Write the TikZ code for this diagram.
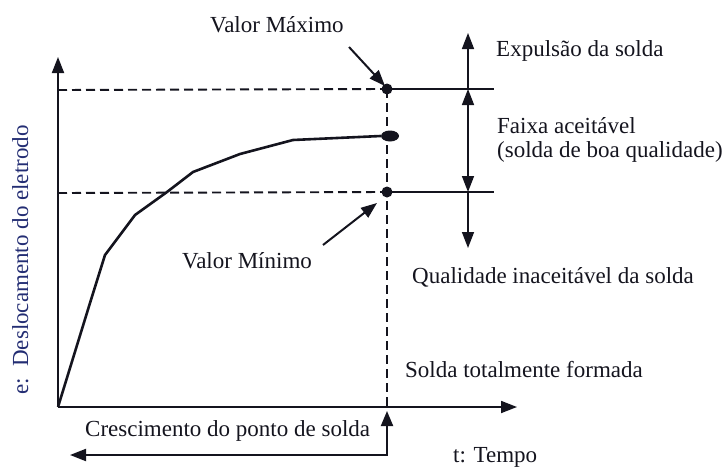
\documentclass[tikz,border=0pt]{standalone}
\usepackage{fontspec}
\setmainfont{Liberation Serif}
\usetikzlibrary{arrows.meta,shapes.geometric}
\definecolor{ink}{RGB}{20,20,30}
\definecolor{navy}{RGB}{35,45,115}
\begin{document}
\begin{tikzpicture}[x=1pt,y=-1pt,
  lbl/.style={anchor=base west,inner sep=0pt,text=ink,font=\fontsize{23}{27}\selectfont},
  ax/.style={line width=1.8pt,draw=ink},
  dsh/.style={line width=1.9pt,draw=ink,dash pattern=on 9pt off 5pt},
  thin/.style={line width=1.5pt,draw=ink},
  tip/.style={-{Triangle[length=16pt,width=12pt]}},
  dot/.style={circle,fill=ink,inner sep=0pt,minimum size=11pt}]
\useasboundingbox (0,0) rectangle (723,466);
% key points
\coordinate (O) at (58,407);
\coordinate (ytop) at (58,57);
\coordinate (xend) at (517,407);
\coordinate (yMx) at (58,90);
\coordinate (yMn) at (58,193);
\coordinate (rMx) at (494,89);
\coordinate (rMn) at (494,192);
\coordinate (vtop) at (468,33);
\coordinate (vMx) at (468,89);
\coordinate (vMn) at (468,192);
\coordinate (vbot) at (468,248);
\coordinate (dbot) at (387,407);
\coordinate (upTail) at (387,455);
\coordinate (upTip) at (387,411);
\coordinate (leftTip) at (70,455);
\coordinate (maxTail) at (349,47);
\coordinate (maxHead) at (385,86);
\coordinate (minTail) at (323,245);
\coordinate (minHead) at (377,203);
% dots
\node[dot] (Mx) at (387,89) {};
\node[dot] (Mn) at (387,192) {};
\node[ellipse,fill=ink,inner sep=0pt,minimum width=18pt,minimum height=11pt] (E) at (390,136) {};
% axes
\draw[ax,tip] (O) -- (ytop);
\draw[ax,tip] (O) -- (xend);
% dashed lines
\draw[dsh] (yMx) -- (Mx.center);
\draw[dsh] (yMn) -- (Mn.center);
\draw[dsh] (Mx.center) -- (dbot);
% solid limit lines
\draw[thin] (Mx.center) -- (rMx);
\draw[thin] (Mn.center) -- (rMn);
% curve
\draw[line width=2.6pt,draw=ink,line join=round] (O) -- (90,303) -- (105,255) -- (135,215) -- (167,192) -- (193,172) -- (240,154) -- (293,140) -- (E.west);
% vertical range arrows
\draw[thin,tip] (vMx) -- (vtop);
\draw[thin,{Triangle[length=16pt,width=12pt]}-{Triangle[length=16pt,width=12pt]}] (vMx) -- (vMn);
\draw[thin,tip] (vMn) -- (vbot);
% pointer arrows
\draw[line width=2pt,draw=ink,tip] (maxTail) -- (maxHead);
\draw[line width=2pt,draw=ink,tip] (minTail) -- (minHead);
% bottom arrow
\draw[line width=2pt,draw=ink,{Triangle[length=16pt,width=12pt]}-{Triangle[length=15pt,width=12pt]}] (leftTip) -- (upTail) -- (upTip);
% labels
\node[lbl] (tMax) at (210,32) {Valor Máximo};
\node[lbl] (tMin) at (182,268) {Valor Mínimo};
\node[lbl] (tExp) at (496,56) {Expulsão da solda};
\node[lbl] (tFx1) at (497,133) {Faixa aceitável};
\node[lbl] (tFx2) at (497,157) {(solda de boa qualidade)};
\node[lbl] (tQi) at (412,283) {Qualidade inaceitável da solda};
\node[lbl] (tSf) at (405,377) {Solda totalmente formada};
\node[lbl] (tCr) at (85,436) {Crescimento do ponto de solda};
\node[lbl] (tT) at (453,462) {t: Tempo};
\node[lbl,rotate=90,text=navy] (tY) at (28,395) {e:\ \ Deslocamento do eletrodo};
\end{tikzpicture}
\end{document}
